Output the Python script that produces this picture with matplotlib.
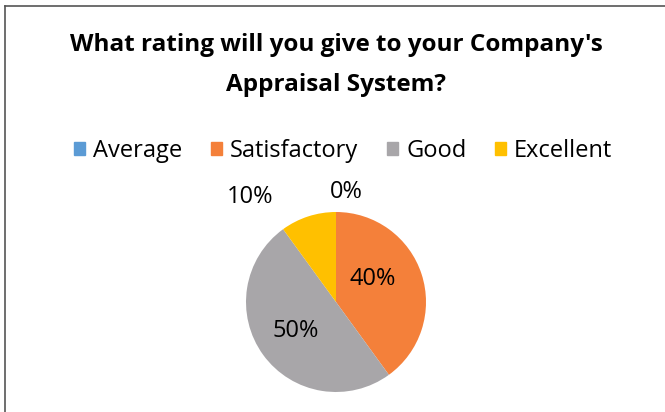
import numpy as np
import matplotlib.pyplot as plt
from matplotlib.lines import Line2D

# Data
categories = ['Average', 'Satisfactory', 'Good', 'Excellent']
shares = [0, 40, 50, 10]
colors = ['#5B9BD5', '#F4803A', '#A8A6A9', '#FFC000']
title_lines = ["What rating will you give to your Company's", "Appraisal System?"]

plt.rcParams['font.family'] = ['Open Sans', 'DejaVu Sans']

fig = plt.figure(figsize=(6.65, 4.12), dpi=100)
W, H = 665, 412

# chart border (left and top only, as in the reference)
fig.add_artist(Line2D([5 / W, 5 / W], [0, 1 - 6 / H], color='#555555', lw=1.2))
fig.add_artist(Line2D([5 / W, 1], [1 - 6 / H, 1 - 6 / H], color='#555555', lw=1.2))

fig.text(336 / W, 1 - 45 / H, title_lines[0],
         ha='center', va='center', fontsize=17.5, fontweight='bold')
fig.text(336 / W, 1 - 85 / H, title_lines[1],
         ha='center', va='center', fontsize=17.5, fontweight='bold')

# pie axes: centre (336, 302), radius 90 px
cx, cy, r = 336, 302, 90
ax = fig.add_axes([(cx - r) / W, 1 - (cy + r) / H, 2 * r / W, 2 * r / H])
wedges, _ = ax.pie(shares, colors=colors, startangle=90, counterclock=False,
                   radius=1, wedgeprops=dict(linewidth=0))
ax.set_xlim(-1, 1)
ax.set_ylim(-1, 1)
ax.set_aspect('equal')

# data labels
label_pos = {0: (0.12, 1.22), 3: (-0.96, 1.17)}
for i, (w, v) in enumerate(zip(wedges, shares)):
    if i in label_pos:
        x, y = label_pos[i]
    else:
        ang = np.deg2rad((w.theta1 + w.theta2) / 2)
        x, y = 0.55 * np.cos(ang), 0.55 * np.sin(ang)
        if i == 1:
            x, y = 0.41, 0.26
    ax.text(x, y, f'{v}%', ha='center', va='center', fontsize=17, clip_on=False)

# legend
handles = [plt.Rectangle((0, 0), 1, 1, color=c) for c in colors]
fig.legend(handles, categories, loc='center', bbox_to_anchor=(343 / W, 1 - 151 / H),
           ncol=4, frameon=False, fontsize=17, handlelength=0.47, handleheight=0.47,
           handletextpad=0.35, columnspacing=1.2)

fig.savefig('out.png', dpi=100)
